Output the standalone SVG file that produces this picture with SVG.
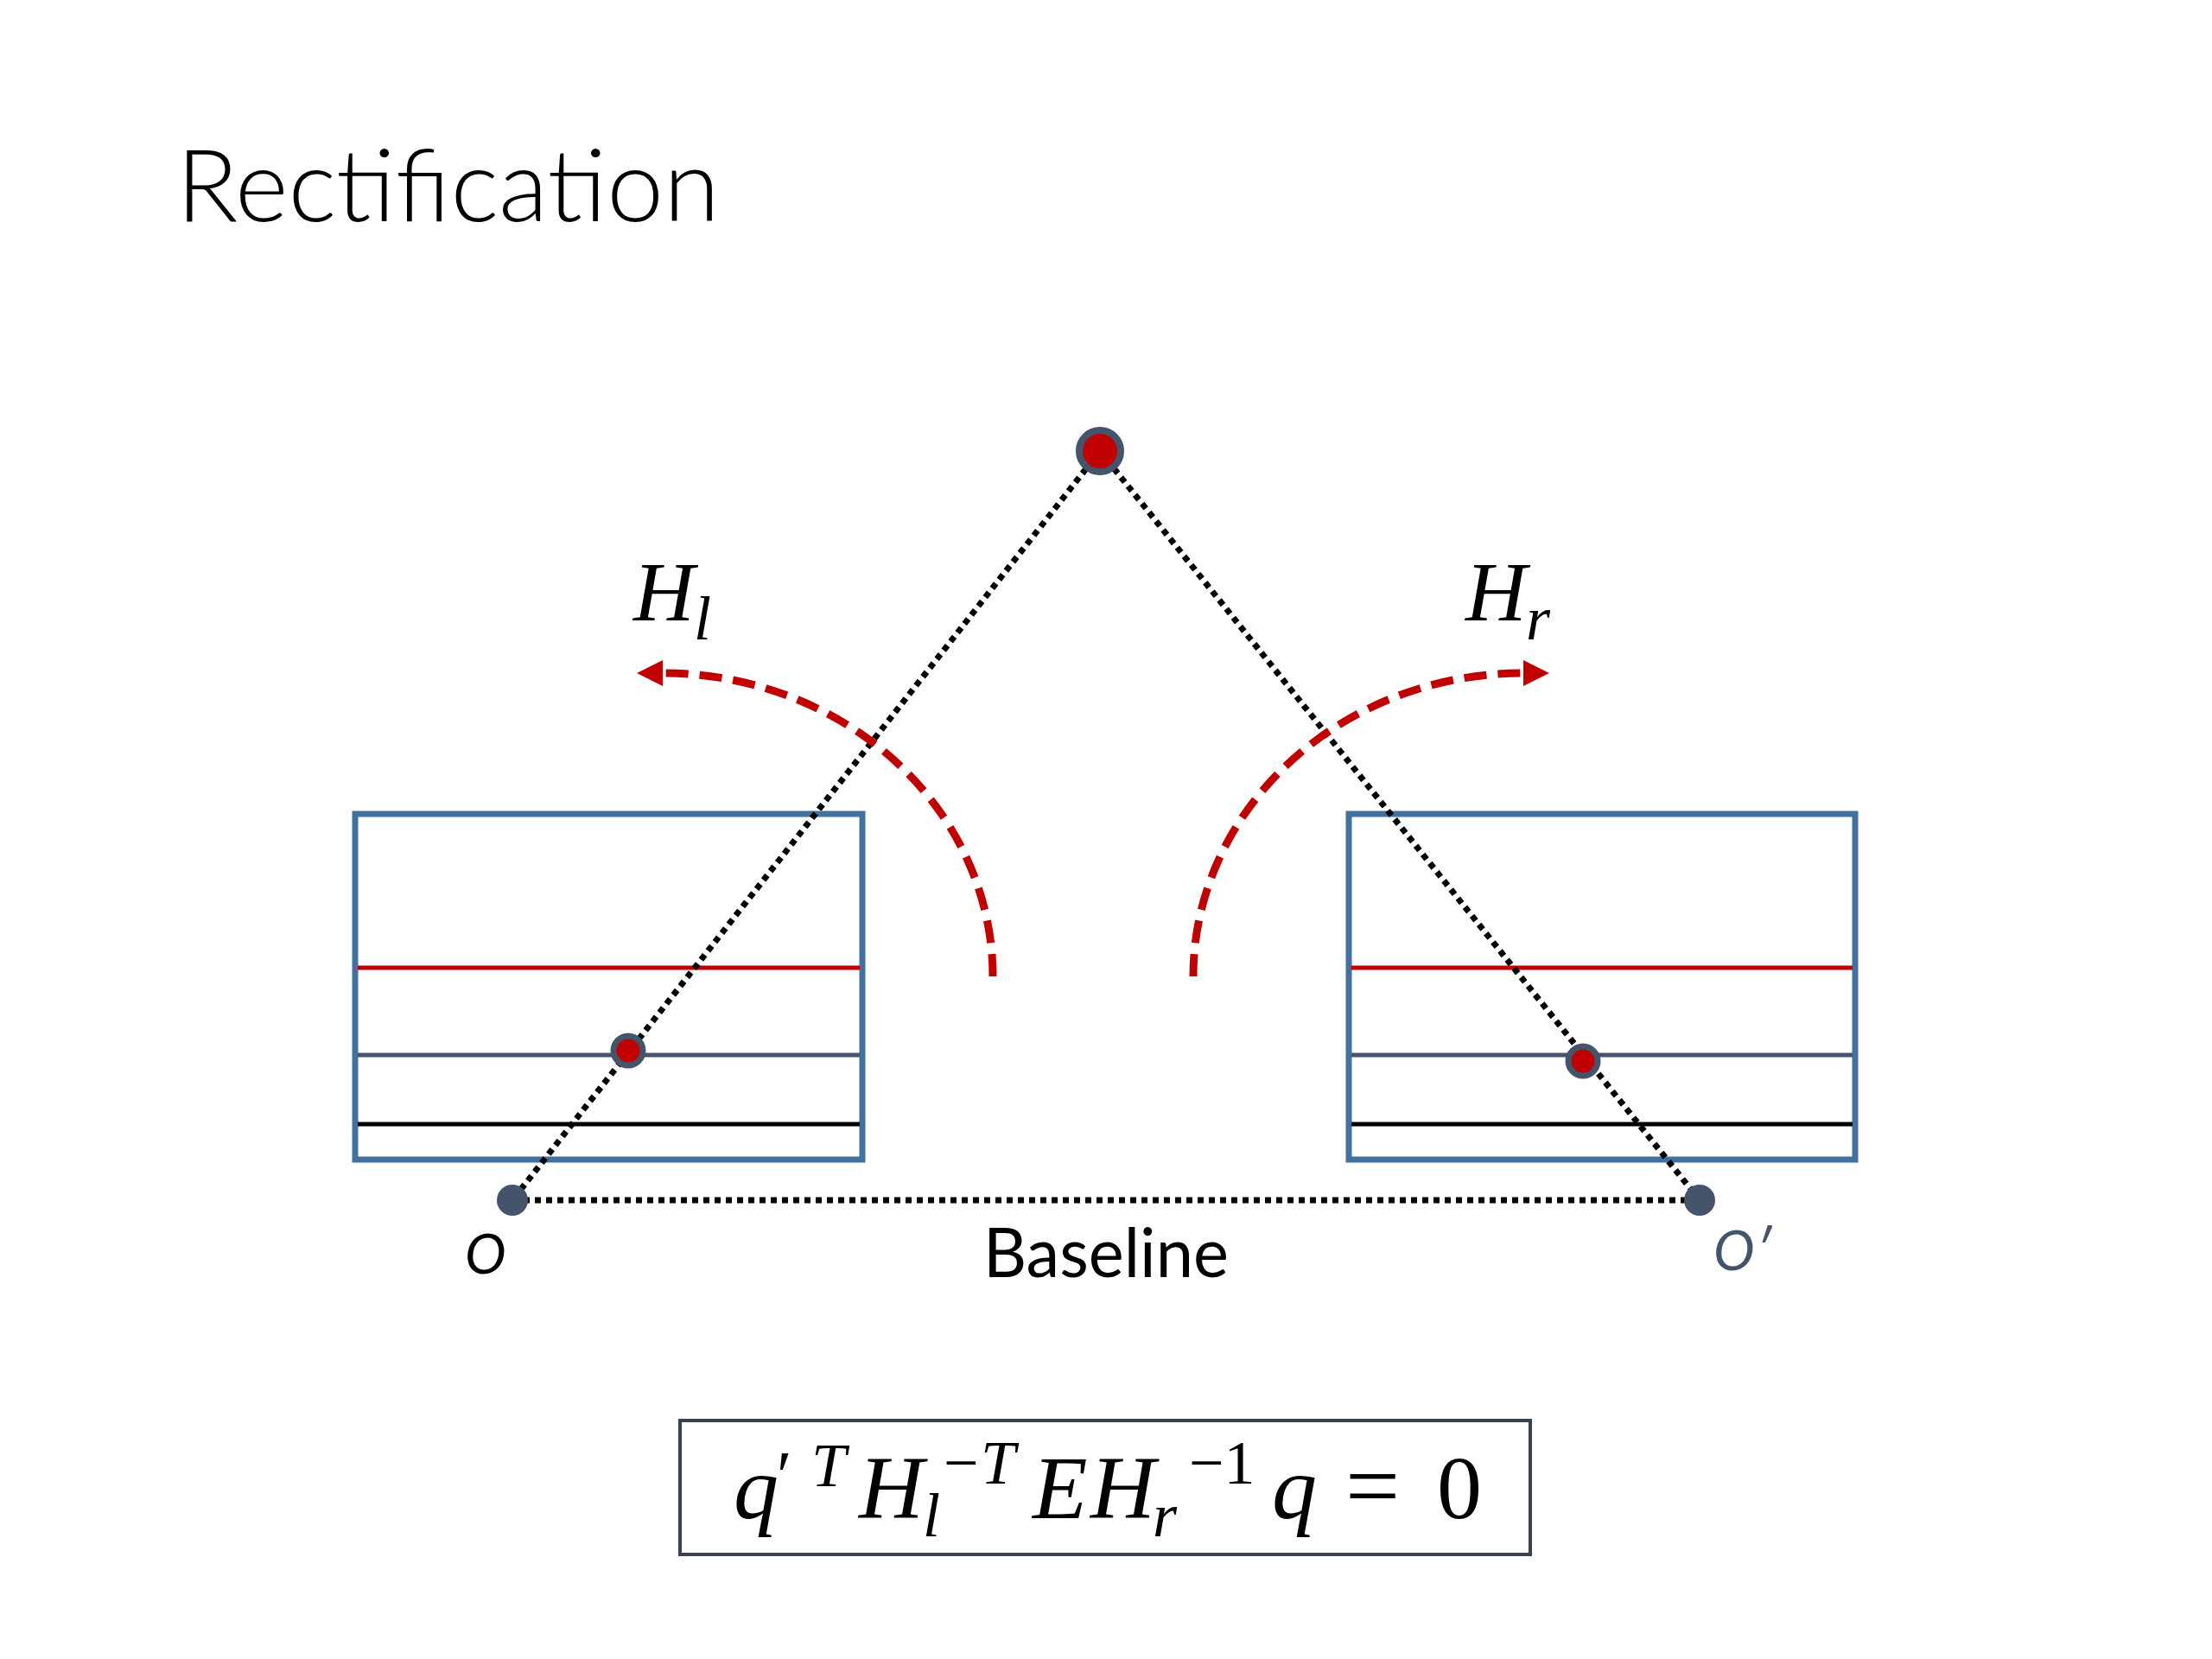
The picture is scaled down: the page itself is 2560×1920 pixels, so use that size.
<svg xmlns="http://www.w3.org/2000/svg" width="2560" height="1920" viewBox="0 0 2560 1920">
  <style>
    .box{fill:none;stroke:#41719C;stroke-width:7}
    .red{stroke:#C00000;stroke-width:5}
    .slate{stroke:#44546A;stroke-width:5}
    .blk{stroke:#000;stroke-width:5}
    .dot{fill:none;stroke:#000;stroke-width:7;stroke-dasharray:7 6}
    .arc{fill:none;stroke:#C00000;stroke-width:9;stroke-dasharray:26 13}
    .sans{font-family:Lato,"Open Sans","Liberation Sans",sans-serif}
    .math{font-family:"Liberation Serif","DejaVu Serif",serif;font-style:italic}
  </style>
  <defs>
    <marker id="ah" viewBox="0 0 10 10" refX="0" refY="5" markerWidth="32" markerHeight="30" markerUnits="userSpaceOnUse" orient="auto">
      <path d="M0,0 L10,5 L0,10 z" fill="#C00000"/>
    </marker>
  </defs>
  <rect width="2560" height="1920" fill="#fff"/>

  <text id="title" class="sans" x="204" y="256" font-size="116" font-weight="300" textLength="629" lengthAdjust="spacingAndGlyphs" fill="#000">Rectification</text>

  <g id="left-image">
    <rect class="box" x="411" y="942" width="587" height="400"/>
    <line class="red" x1="414" y1="1120" x2="995" y2="1120"/>
    <line class="slate" x1="414" y1="1221" x2="995" y2="1221"/>
    <line class="blk" x1="414" y1="1301" x2="995" y2="1301"/>
  </g>
  <g id="right-image">
    <rect class="box" x="1561" y="942" width="586" height="400"/>
    <line class="red" x1="1564" y1="1120" x2="2144" y2="1120"/>
    <line class="slate" x1="1564" y1="1221" x2="2144" y2="1221"/>
    <line class="blk" x1="1564" y1="1301" x2="2144" y2="1301"/>
  </g>

  <g id="connectors">
    <line class="dot" x1="1273" y1="522" x2="593" y2="1389"/>
    <line class="dot" x1="1273" y1="522" x2="1967" y2="1389"/>
    <line class="dot" x1="593" y1="1389" x2="1967" y2="1389"/>
    <path class="arc" d="M1149 1130 A382 351 0 0 0 767 779" marker-end="url(#ah)"/>
    <path class="arc" d="M1381 1130 A382 351 0 0 1 1763 779" marker-end="url(#ah)"/>
  </g>

  <g id="point-P"><circle cx="1273" cy="522" r="24" fill="#C00000" stroke="#44546A" stroke-width="8"/></g>
  <g id="point-pl"><circle cx="727" cy="1216" r="17" fill="#C00000" stroke="#44546A" stroke-width="7"/></g>
  <g id="point-pr"><circle cx="1832" cy="1228" r="17" fill="#C00000" stroke="#44546A" stroke-width="7"/></g>
  <g id="point-O">
    <circle cx="593" cy="1389" r="18" fill="#44546A"/>
    <text class="sans" x="538" y="1474" font-size="64" font-style="italic" fill="#000">O</text>
  </g>
  <g id="point-O2">
    <circle cx="1967" cy="1389" r="18" fill="#44546A"/>
    <text class="sans" x="1983" y="1470" font-size="64" font-style="italic" fill="#44546A">O′</text>
  </g>

  <text id="baseline-label" class="sans" x="1138" y="1478" font-size="80" textLength="284" lengthAdjust="spacingAndGlyphs" fill="#000">Baseline</text>

  <g id="label-Hl">
    <text class="math" x="733" y="718" font-size="98" fill="#000">H</text>
    <text class="math" x="803" y="740" font-size="72" fill="#000">l</text>
  </g>
  <g id="label-Hr">
    <text class="math" x="1696" y="718" font-size="98" fill="#000">H</text>
    <text class="math" x="1766" y="740" font-size="72" fill="#000">r</text>
  </g>

  <g id="equation">
    <rect x="787" y="1644" width="984" height="155" fill="none" stroke="#3A4252" stroke-width="4"/>
    <g class="math" fill="#000">
      <text x="849" y="1757" font-size="104">q</text>
      <text x="899" y="1735" font-size="80" font-style="normal">′</text>
      <text x="939" y="1720" font-size="72">T</text>
      <text x="994" y="1757" font-size="104">H</text>
      <text x="1068" y="1778" font-size="72">l</text>
      <text x="1092" y="1717" font-size="72" font-style="normal">−</text>
      <text x="1135" y="1717" font-size="72">T</text>
      <text x="1195" y="1757" font-size="104">E</text>
      <text x="1262" y="1757" font-size="104">H</text>
      <text x="1334" y="1778" font-size="72">r</text>
      <text x="1376" y="1717" font-size="72" font-style="normal">−1</text>
      <text x="1472" y="1757" font-size="104">q</text>
      <text x="1557" y="1757" font-size="112" font-style="normal">=</text>
      <text x="1663" y="1757" font-size="104" font-style="normal">0</text>
    </g>
  </g>
</svg>
